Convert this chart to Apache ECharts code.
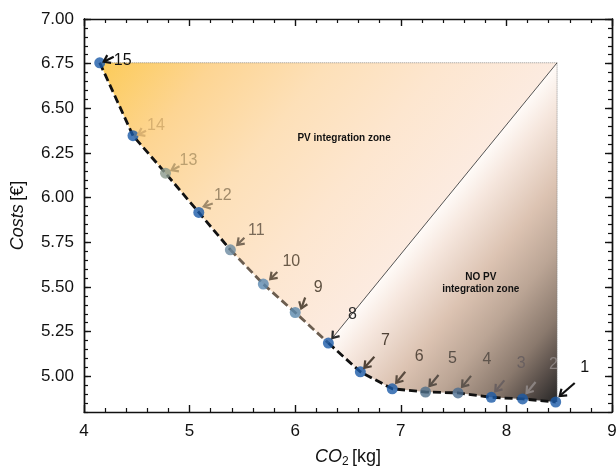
<!DOCTYPE html>
<html><head><meta charset="utf-8">
<script src="https://cdn.jsdelivr.net/npm/echarts@6/dist/echarts.min.js"></script>
<style>html,body{margin:0;padding:0;background:#fff}#c{width:616px;height:466px}</style>
</head><body><div id="c"></div>
<script>
// ---- data ----
const pointIds = ['1','2','3','4','5','6','7','8','9','10','11','12','13','14','15'];
const co2   = [8.467, 8.153, 7.857, 7.542, 7.234, 6.919, 6.617, 6.314, 6.000, 5.698, 5.386, 5.087, 4.772, 4.464, 4.149];
const costs = [4.856, 4.873, 4.882, 4.907, 4.912, 4.930, 5.025, 5.186, 5.357, 5.516, 5.708, 5.917, 6.137, 6.347, 6.755];
const zoneTop = 6.755;
const zoneRight = 8.48;
const splitPointIndex = 7; // point "8" separates the two zones
const zoneNames = ['PV integration zone', 'NO PV\nintegration zone'];
const zoneNameX = [6.463, 7.757];
const zoneNameY = [6.334, 5.518];
const xTickLabels = ['4','5','6','7','8','9'];
const yTickLabels = ['5.00','5.25','5.50','5.75','6.00','6.25','6.50','6.75','7.00'];

// ---- styles (pixel offsets / colours) ----
const labelOff = [[29,-34],[31,-34],[30,-34],[29,-33],[27,-33],[27,-32],[25,-31],[24,-28],[23,-25],[28,-23],[26,-19],[24,-17],[23,-13],[23,-10],[23,-2]];
const tipOff  = [[4,-6],[4,-6],[4,-6],[4,-6],[4,-6],[4,-6],[4,-4],[4,-5],[6,-4],[7,-5],[7,-5],[5,-6],[6,-3],[5,-1],[4,-1]];
const tailOff = [[19,-19],[13,-17],[13,-17],[13,-17],[13,-17],[13,-17],[14,-15],null,[10,-15],[14,-12],[14,-12],[14,-9],[14,-7],[13,-5],[14,-6]];
const annColors = ['#111111','#8a8280','#6a6060','#5f554d','#5a5048','#5a4c40','#4f4236','#2a2a2a','#5d5040','#6a5a48','#7a6a58','#a08a6a','#bca070','#d8b070','#111111'];
const pointColors = ['#1a5aa8','#1a5aa8','#1a5aa8','#4a6c8e','#4f6f8a','#1a5aa8','#1a5aa8','#1a5aa8','#5a88ac','#5a88b0','#6a8aa0','#1a5aa8','#8a988c','#1a5aa8','#1a5aa8'];

const FONT = '"Liberation Sans", Arial, Helvetica, sans-serif';
const chart = echarts.init(document.getElementById('c'), null, {renderer:'canvas'});

function seg(a, b) { // indices a..b descending
  const out = [];
  for (let i = a; i >= b; i--) out.push([co2[i], costs[i]]);
  return out;
}

const yMin = 4.8, yMax = 7.0;
const yMajor = yTickLabels.map(Number);
const xAxisBase = {
  type:'value', min:4, max:9, interval:1,
  axisLine:{show:true, lineStyle:{color:'#111', width:1.4}},
  axisTick:{show:true, inside:true, length:7, lineStyle:{color:'#111', width:1.4}},
  minorTick:{show:true, splitNumber:5, length:4, lineStyle:{color:'#111', width:1.2}},
  splitLine:{show:false}
};
const yAxisBase = {
  type:'value', min:yMin, max:yMax,
  axisLine:{show:true, lineStyle:{color:'#111', width:1.4}},
  splitLine:{show:false}
};

const option = {
  animation:false,
  grid:{left:84, right:4, top:19, bottom:54, containLabel:false, outerBoundsMode:'none'},
  xAxis:[
    Object.assign({}, xAxisBase, {
      position:'bottom',
      axisLabel:{show:true, margin:11, fontSize:17, color:'#111', fontFamily:FONT,
        formatter:(v)=>{const i = xTickLabels.indexOf(String(v)); return i>=0 ? xTickLabels[i] : '';}},
      name:'{i|CO}{s|2} {n|[kg]}', nameLocation:'middle', nameGap:34,
      nameTextStyle:{rich:{
        i:{fontStyle:'italic', fontSize:18, fontFamily:FONT, color:'#111'},
        s:{fontSize:12, fontFamily:FONT, color:'#111', verticalAlign:'bottom', padding:[10,0,0,0]},
        n:{fontSize:18, fontFamily:FONT, color:'#111'}
      }}
    }),
    Object.assign({}, xAxisBase, {position:'top', axisLabel:{show:false}})
  ],
  yAxis:[
    Object.assign({}, yAxisBase, {
      position:'left',
      axisTick:{show:true, inside:true, length:7, customValues:yMajor, lineStyle:{color:'#111', width:1.4}},
      axisLabel:{show:true, margin:10, fontSize:17, color:'#111', fontFamily:FONT, customValues:yMajor,
        formatter:(v)=>v.toFixed(2)},
      name:'{i|Costs} {n|[€]}', nameLocation:'middle', nameGap:57, nameRotate:90,
      nameTextStyle:{rich:{
        i:{fontStyle:'italic', fontSize:18, fontFamily:FONT, color:'#111'},
        n:{fontSize:18, fontFamily:FONT, color:'#111'}
      }}
    }),
    Object.assign({}, yAxisBase, {
      position:'left', interval:0.05,
      axisTick:{show:true, inside:true, length:4, lineStyle:{color:'#111', width:1.2}},
      axisLabel:{show:false}
    }),
    Object.assign({}, yAxisBase, {
      position:'right',
      axisTick:{show:true, inside:true, length:7, customValues:yMajor, lineStyle:{color:'#111', width:1.4}},
      axisLabel:{show:false}
    }),
    Object.assign({}, yAxisBase, {
      position:'right', interval:0.05,
      axisTick:{show:true, inside:true, length:4, lineStyle:{color:'#111', width:1.2}},
      axisLabel:{show:false}
    })
  ],
  series:[
    { // gradient zone polygons
      type:'custom', z:1, silent:true, data:[0],
      renderItem:function(params, api){
        const n = co2.length;
        const corner = api.coord([zoneRight, zoneTop]);
        const sp = api.coord([co2[splitPointIndex], costs[splitPointIndex]]);
        const start = api.coord([co2[n-1], costs[n-1]]);
        const br = api.coord([zoneRight, costs[0]]);
        let dx = corner[0]-sp[0], dy = corner[1]-sp[1];
        const dl = Math.sqrt(dx*dx+dy*dy);
        const nx = -dy/dl, ny = dx/dl;
        // PV zone
        const pvPts = [];
        for (let i = n-1; i >= splitPointIndex; i--) pvPts.push(api.coord([co2[i], costs[i]]));
        pvPts.push(corner);
        const dPV = (corner[0]-start[0])*nx + (corner[1]-start[1])*ny;
        const gPV = new echarts.graphic.LinearGradient(start[0], start[1], start[0]+nx*dPV, start[1]+ny*dPV, [
          {offset:0, color:'#fccb58'},
          {offset:0.25, color:'#fdd593'},
          {offset:0.5, color:'#fde0b8'},
          {offset:0.75, color:'#fde6cf'},
          {offset:1, color:'#fcebe0'}
        ], true);
        // NO PV zone
        const noPts = [];
        for (let i = splitPointIndex; i >= 0; i--) noPts.push(api.coord([co2[i], costs[i]]));
        noPts.push(br);
        noPts.push(corner);
        const dNo = (br[0]-sp[0])*nx + (br[1]-sp[1])*ny;
        const s2 = [br[0]-nx*dNo, br[1]-ny*dNo];
        const gNo = new echarts.graphic.LinearGradient(s2[0], s2[1], br[0], br[1], [
          {offset:0, color:'#fffbf8'},
          {offset:0.12, color:'#f6e7de'},
          {offset:0.35, color:'#dcc3b2'},
          {offset:0.55, color:'#bba595'},
          {offset:0.75, color:'#8a796d'},
          {offset:0.88, color:'#574d48'},
          {offset:1, color:'#262626'}
        ], true);
        const edge = [api.coord([co2[n-1], zoneTop]), corner, br];
        return {type:'group', children:[
          {type:'polygon', shape:{points:pvPts}, style:{fill:gPV, stroke:null}},
          {type:'polygon', shape:{points:noPts}, style:{fill:gNo, stroke:null}},
          {type:'polyline', shape:{points:edge}, style:{stroke:'#777', lineWidth:0.8, lineDash:[1,1], fill:null}}
        ]};
      }
    },
    { // zone names
      type:'custom', z:6, silent:true, data:zoneNames.map((n,i)=>i),
      renderItem:function(params, api){
        const i = params.dataIndex;
        const p = api.coord([zoneNameX[i], zoneNameY[i]]);
        return {type:'text', style:{text:zoneNames[i], x:p[0], y:p[1], align:'center', verticalAlign:'middle',
          font:'bold 10px ' + FONT, fill:'#111', lineHeight:12}};
      }
    },
    {type:'line', z:3, data:seg(14,10), symbol:'none', lineStyle:{color:'#111', width:2.8, type:[8,4]}},
    {type:'line', z:3, data:seg(10,7), symbol:'none', lineStyle:{color:'#6b5d4f', width:2.8, type:[8,4]}},
    {type:'line', z:3, data:seg(7,0), symbol:'none', lineStyle:{color:'#111', width:2.8, type:[8,4]}},
    {
      type:'scatter', z:4, symbolSize:11,
      data:co2.map((x,i)=>({value:[x, costs[i]], itemStyle:{color:pointColors[i]}}))
    },
    { // arrows and labels
      type:'custom', z:5, silent:true, data:pointIds.map((n,i)=>i),
      renderItem:function(params, api){
        const i = params.dataIndex;
        const p = api.coord([co2[i], costs[i]]);
        const tip = [p[0]+tipOff[i][0], p[1]+tipOff[i][1]];
        const tail = tailOff[i] ? [p[0]+tailOff[i][0], p[1]+tailOff[i][1]] : api.coord([zoneRight, zoneTop]);
        const dx = tip[0]-tail[0], dy = tip[1]-tail[1];
        const L = Math.sqrt(dx*dx+dy*dy);
        const ux = dx/L, uy = dy/L;
        const hl = 7.5, a = 0.62;
        const rot = (ang)=>[ux*Math.cos(ang)-uy*Math.sin(ang), ux*Math.sin(ang)+uy*Math.cos(ang)];
        const r1 = rot(a), r2 = rot(-a);
        const h1 = [tip[0]-hl*r1[0], tip[1]-hl*r1[1]];
        const h2 = [tip[0]-hl*r2[0], tip[1]-hl*r2[1]];
        const col = annColors[i];
        const lw = tailOff[i] ? 2.2 : 0.8;
        return {type:'group', children:[
          {type:'line', shape:{x1:tail[0], y1:tail[1], x2:tip[0], y2:tip[1]}, style:{stroke:col, lineWidth:lw}},
          {type:'polyline', shape:{points:[h1, tip, h2]}, style:{stroke:col, lineWidth:2.2, fill:null}},
          {type:'text', style:{text:pointIds[i], x:p[0]+labelOff[i][0], y:p[1]+labelOff[i][1],
            align:'center', verticalAlign:'middle', font:'16px ' + FONT, fill:col}}
        ]};
      }
    }
  ]
};
chart.setOption(option);
</script>
</body></html>
